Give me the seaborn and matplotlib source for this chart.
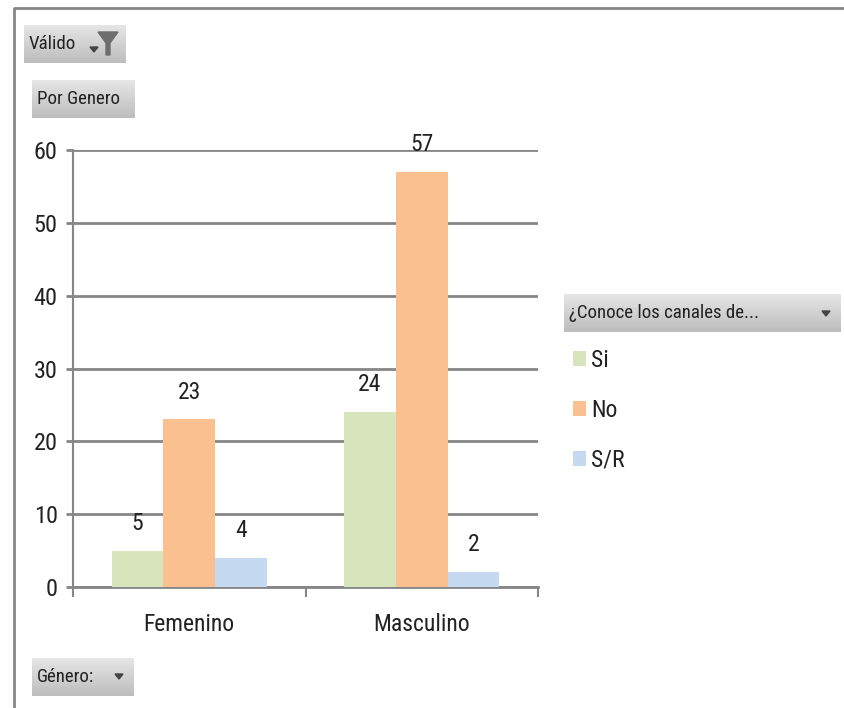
import numpy as np
import pandas as pd
import matplotlib
matplotlib.use("Agg")
import matplotlib.pyplot as plt
from matplotlib import font_manager as fm
from matplotlib.patches import Polygon
import seaborn as sns

generos = ["Femenino", "Masculino"]
respuestas = ["Si", "No", "S/R"]
valores_si = [5, 24]
valores_no = [23, 57]
valores_sr = [4, 2]
colores = ["#D8E4BC", "#FAC090", "#C5D9F1"]

W, H = 844, 708
GRIS = "#868686"

sns.set_theme(style="white")
instaladas = {f.name for f in fm.fontManager.ttflist}
fuente = next((n for n in ["Liberation Sans Narrow", "Roboto Condensed", "Open Sans Condensed", "Liberation Sans"]
               if n in instaladas), "DejaVu Sans")
plt.rcParams["font.family"] = [fuente, "DejaVu Sans"]

datos = pd.DataFrame({
    "genero": np.repeat(generos, len(respuestas)),
    "respuesta": respuestas * len(generos),
    "cantidad": [v for par in zip(valores_si, valores_no, valores_sr) for v in par],
})

fig = plt.figure(figsize=(W / 100, H / 100), dpi=100, facecolor="white")

# Capa en pixeles para el marco y los botones del grafico dinamico
capa = fig.add_axes([0, 0, 1, 1], zorder=0)
capa.set_xlim(0, W)
capa.set_ylim(H, 0)
capa.axis("off")
capa.plot([14, 14, 844], [708, 8, 8], color=GRIS, lw=2, solid_capstyle="butt")

degradado = np.linspace(0.90, 0.74, 64).reshape(-1, 1)


def boton(x0, y0, x1, y1, texto, flecha=None):
    capa.imshow(degradado, cmap="gray", vmin=0, vmax=1, aspect="auto",
                extent=(x0, x1, y1, y0), zorder=1)
    capa.text(x0 + 5, (y0 + y1) / 2, texto, ha="left", va="center",
              fontsize=13.6, color="#222222", zorder=2)
    if flecha is not None:
        fx, fy = flecha
        capa.add_patch(Polygon([(fx - 4, fy - 2), (fx + 4, fy - 2), (fx, fy + 3)],
                               closed=True, color="#444444", zorder=2))


boton(24, 25, 126, 63, "Válido", flecha=(94, 49))
capa.add_patch(Polygon([(98, 32), (118, 32), (110, 43), (110, 55), (106, 55), (106, 43)],
                       closed=True, color="#6E6E6E", zorder=2))
boton(32, 80, 135, 118, "Por Genero")
boton(32, 658, 134, 696, "Género:", flecha=(119, 676))
boton(564, 294, 841, 332, "¿Conoce los canales de...", flecha=(826, 313))
capa.set_xlim(0, W)
capa.set_ylim(H, 0)

# Area de trazado: x 73-538, y 150-587 en pixeles
ax = fig.add_axes([73 / W, 1 - 587 / H, (538 - 73) / W, (587 - 150) / H], zorder=1)
ax.patch.set_alpha(0)
sns.barplot(data=datos, x="genero", y="cantidad", hue="respuesta",
            order=generos, hue_order=respuestas, palette=colores,
            width=0.667, gap=0, saturation=1, linewidth=0, legend=True, ax=ax, zorder=3)

ax.set_xlim(-0.5, 1.5)
ax.set_ylim(0, 60)
ax.set_yticks(range(0, 61, 10))
ax.set_xticks([-0.5, 0.5, 1.5], minor=False)
ax.set_xticklabels([])
ax.set_xticks([0, 1], minor=True)
ax.set_xticklabels(generos, minor=True, fontsize=17, color="#222222")
ax.set_xlabel("")
ax.set_ylabel("")
ax.grid(axis="y", color=GRIS, lw=2)
ax.grid(axis="x", visible=False)
ax.set_axisbelow(True)
for lado in ["top", "right"]:
    ax.spines[lado].set_visible(False)
ax.spines["left"].set_color(GRIS)
ax.spines["left"].set_linewidth(1.5)
ax.spines["bottom"].set_color(GRIS)
ax.spines["bottom"].set_linewidth(2)
ax.tick_params(axis="y", which="major", left=True, length=5, width=2, color=GRIS,
               labelsize=17.5, labelcolor="#222222", pad=6)
ax.tick_params(axis="x", which="major", bottom=True, length=7, width=1.5, color=GRIS)
ax.tick_params(axis="x", which="minor", bottom=False, pad=14.5)

for grupo in ax.containers:
    ax.bar_label(grupo, padding=11.5, fontsize=17, color="#222222")

manijas, etiquetas = ax.get_legend_handles_labels()
ax.get_legend().remove()
fig.legend(manijas, etiquetas, loc="upper left",
           bbox_to_anchor=(552 / W, 1 - 328 / H), bbox_transform=fig.transFigure,
           frameon=False, fontsize=17, labelspacing=1.13,
           handlelength=0.55, handleheight=0.6, handletextpad=0.22, labelcolor="#222222")

fig.savefig("out.png", dpi=100)
